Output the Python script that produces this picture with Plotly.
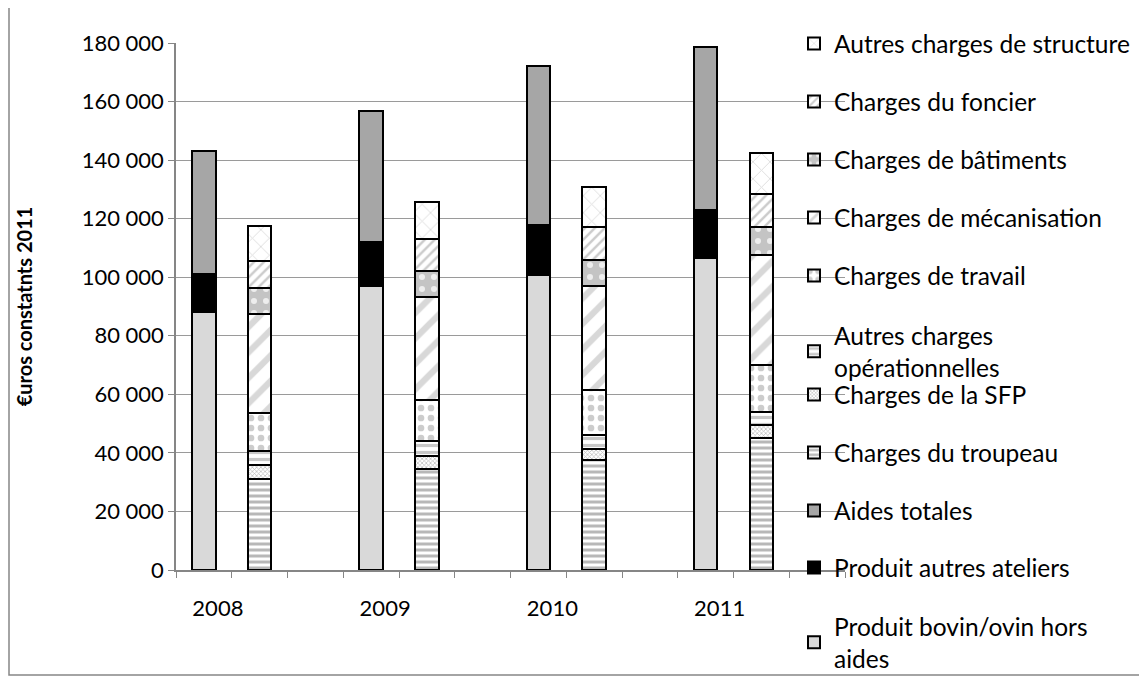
import plotly.graph_objects as go

# ---- data ----
categories = ["2008", "2008 charges", "gap1",
              "2009", "2009 charges", "gap2",
              "2010", "2010 charges", "gap3",
              "2011", "2011 charges", "gap4"]
tick_labels = ["2008", "", "", "2009", "", "", "2010", "", "", "2011", "", ""]
product_cats = ["2008", "2009", "2010", "2011"]
charge_cats = ["2008 charges", "2009 charges", "2010 charges", "2011 charges"]

produit_bovin = [88000, 97000, 100800, 106700]
produit_autres = [13000, 15150, 17000, 16300]
aides_totales = [42000, 44750, 54450, 55600]

charges_troupeau = [31250, 34500, 37500, 45000]
charges_sfp = [4550, 4500, 4000, 4500]
autres_operationnelles = [4900, 5000, 4500, 4500]
charges_travail = [13000, 14000, 15400, 16000]
charges_mecanisation = [33600, 35130, 35600, 37500]
charges_batiments = [8900, 9000, 8900, 9800]
charges_foncier = [9450, 10940, 11400, 11100]
autres_structure = [11850, 12730, 13500, 14000]

y_ticks = [0, 20000, 40000, 60000, 80000, 100000, 120000, 140000, 160000, 180000]
y_tick_labels = ["0", "20 000", "40 000", "60 000", "80 000", "100 000",
                 "120 000", "140 000", "160 000", "180 000"]

FONT = "Lato"
BAR_W = 0.42
LINE = dict(color="black", width=2)

# page body adds an 8px margin; work in figure pixels
SHIFT = 8
PLOT_LEFT, PLOT_RIGHT = 176 - SHIFT, 845 - SHIFT
PLOT_TOP, PLOT_BOTTOM = 43 - SHIFT, 570 - SHIFT
W, H = 1147, 677
PW, PH = PLOT_RIGHT - PLOT_LEFT, PLOT_BOTTOM - PLOT_TOP

# legend slots (screen y of first text line, top to bottom, like the reference)
LEGEND_SLOTS = [44, 102, 160, 218, 276, 336, 395, 453, 511, 568, 627]
LEG_OFFSET = 23

def px_to_paper_y(py):
    return (PLOT_BOTTOM - py) / PH

def px_to_paper_x(px):
    return (px - PLOT_LEFT) / PW

fig = go.Figure()
n_traces = 11
legend_layouts = {}

def add(name, x, y, color, shape="", fg=None, size=8, solidity=0.3):
    marker = dict(color=color, line=LINE)
    if shape:
        marker["pattern"] = dict(shape=shape, fgcolor=fg, bgcolor=color,
                                 size=size, solidity=solidity, fillmode="replace")
    idx = len(fig.data)
    slot = n_traces - 1 - idx
    key = "legend" if slot == 0 else f"legend{slot + 1}"
    top_px = LEGEND_SLOTS[slot] - SHIFT - LEG_OFFSET
    legend_layouts[key] = dict(
        x=px_to_paper_x(786), xanchor="left",
        y=px_to_paper_y(top_px), yanchor="top",
        font=dict(family=FONT, size=24.5, color="black"),
        itemwidth=30, bgcolor="rgba(0,0,0,0)")
    fig.add_trace(go.Bar(name=name, x=x, y=y, width=BAR_W, marker=marker,
                         legend=key, hoverinfo="name+y"))

add("Produit bovin/ovin hors<br>aides", product_cats, produit_bovin, "#d9d9d9")
add("Produit autres ateliers", product_cats, produit_autres, "#000000")
add("Aides totales", product_cats, aides_totales, "#a6a6a6")
add("Charges du troupeau", charge_cats, charges_troupeau, "#ffffff", "-", "#b8b8b8", 6, 0.5)
add("Charges de la SFP", charge_cats, charges_sfp, "#ffffff", "x", "#b8b8b8", 3, 0.4)
add("Autres charges<br>opérationnelles", charge_cats, autres_operationnelles, "#ffffff", "-", "#c8c8c8", 7, 0.45)
add("Charges de travail", charge_cats, charges_travail, "#ffffff", ".", "#cccccc", 10, 0.35)
add("Charges de mécanisation", charge_cats, charges_mecanisation, "#ffffff", "/", "#d8d8d8", 18, 0.35)
add("Charges de bâtiments", charge_cats, charges_batiments, "#c4c4c4", ".", "#eeeeee", 12, 0.2)
add("Charges du foncier", charge_cats, charges_foncier, "#ffffff", "/", "#cccccc", 7, 0.35)
add("Autres charges de structure", charge_cats, autres_structure, "#ffffff", "x", "#dddddd", 12, 0.15)

fig.update_layout(
    barmode="stack",
    width=W, height=H,
    margin=dict(l=PLOT_LEFT, r=W - PLOT_RIGHT, t=PLOT_TOP, b=H - PLOT_BOTTOM,
                autoexpand=False),
    paper_bgcolor="white", plot_bgcolor="white",
    font=dict(family=FONT, size=22, color="black"),
    showlegend=True,
    xaxis=dict(type="category", categoryorder="array", categoryarray=categories,
               range=[-0.5, 11.5], tickmode="array", tickvals=categories,
               ticktext=tick_labels, tickson="boundaries", ticks="outside",
               tickangle=0, ticklen=6, tickcolor="#868686", showline=True,
               linecolor="#868686", linewidth=1.5, showgrid=False,
               ticklabelstandoff=18, ticklabelshift=14,
               tickfont=dict(family=FONT, size=22)),
    yaxis=dict(range=[0, 180000], tickmode="array", tickvals=y_ticks,
               ticktext=y_tick_labels, ticks="outside", ticklen=6,
               tickcolor="#868686", showline=True, linecolor="#868686",
               linewidth=1.5, showgrid=True, gridcolor="#9a9a9a", gridwidth=1.2,
               zeroline=False, tickfont=dict(family=FONT, size=22),
               title=dict(text="<b>€uros constatnts 2011</b>", standoff=44,
                          font=dict(family=FONT, size=20))),
    shapes=[dict(type="rect", xref="paper", yref="paper",
                 x0=px_to_paper_x(9 - SHIFT), x1=px_to_paper_x(1140 - SHIFT),
                 y0=px_to_paper_y(675 - SHIFT), y1=px_to_paper_y(3 - SHIFT),
                 line=dict(color="#868686", width=1.5), fillcolor="rgba(0,0,0,0)",
                 layer="below")],
    **legend_layouts,
)

fig.write_html("out.html")
